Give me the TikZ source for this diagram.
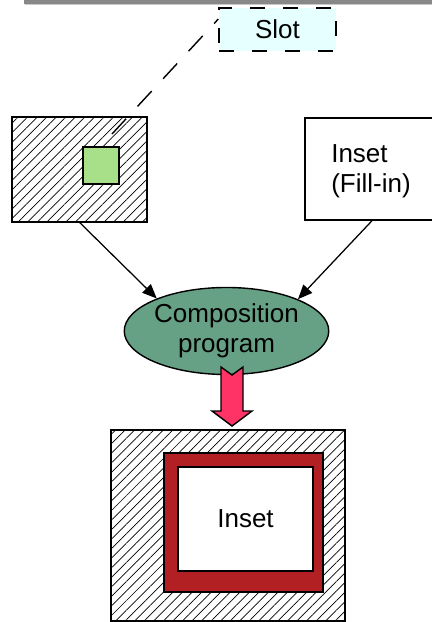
\documentclass[tikz,border=0pt]{standalone}
\usepackage{fontspec}
\setmainfont{Liberation Sans}
\usetikzlibrary{shapes.geometric,arrows.meta,patterns.meta}
\definecolor{slotcyan}{RGB}{230,255,255}
\definecolor{holegreen}{RGB}{168,224,138}
\definecolor{progteal}{RGB}{102,160,133}
\definecolor{arrowpink}{RGB}{255,51,102}
\definecolor{framered}{RGB}{178,32,36}
\definecolor{bargray}{RGB}{136,136,136}

\begin{document}
\begin{tikzpicture}[x=0.025cm,y=-0.025cm,>={Triangle[length=0.36cm,width=0.3cm]},
  every node/.style={font=\fontsize{18.5}{21.5}\selectfont},
  hatched/.style={draw,line width=1pt,inner sep=0pt,
    pattern={Lines[angle=45,distance=4.8pt,line width=0.5pt]}},
  plain/.style={draw,line width=1pt,fill=white,inner sep=0pt}]

  \useasboundingbox (0,0) rectangle (432,622);
  \clip (0,0) rectangle (432,622);
  \fill[bargray!45] (25,3) rectangle (432,5.5);
  \fill[bargray] (24,0) rectangle (432,4.2);

  \node[draw, fill=slotcyan, line width=1pt, dash pattern=on 0.375cm off 0.45cm,
    minimum width=2.925cm, minimum height=1.075cm] (slot) at (277.5,29.5) {Slot};
  \node[hatched, minimum width=3.375cm, minimum height=2.625cm] (page) at (79.5,169.5) {};
  \node[plain, fill=holegreen, minimum width=0.9cm, minimum height=0.925cm] (hole) at (101,165.5) {};
  \node[plain, minimum width=3.35cm, minimum height=2.55cm] (fillin) at (372,169) {};
  \node[anchor=west, align=left, inner sep=0pt] (filltext) at (331,171) {Inset\\(Fill-in)};
  \node[ellipse, draw, line width=1pt, fill=progteal, inner sep=0pt, align=center,
    minimum width=4.875cm, minimum height=2.175cm] (comp) at (226.5,331) {Composition\\program};
  \node[hatched, minimum width=5.85cm, minimum height=4.775cm] (result) at (228,525.5) {};
  \node[draw, line width=1pt, fill=framered, inner sep=0pt,
    minimum width=3.975cm, minimum height=3.475cm] (frame) at (243.5,522.5) {};
  \node[plain, minimum width=3.375cm, minimum height=2.6cm] (inset) at (245.5,519) {Inset};

  \coordinate (slotend) at (112,134);
  \draw[line width=1pt, dash pattern=on 0.52cm off 0.42cm] (slotend) -- (slot.170);

  \path[->, line width=0.9pt]
    (page.south) edge (comp.155)
    (fillin.south) edge (comp.24);

  \filldraw[fill=arrowpink, line width=1pt] (221,367) -- (232,375) -- (243,367) -- (243,411)
    -- (252,411) -- (232,426) -- (212,411) -- (221,411) -- cycle;
\end{tikzpicture}
\end{document}
